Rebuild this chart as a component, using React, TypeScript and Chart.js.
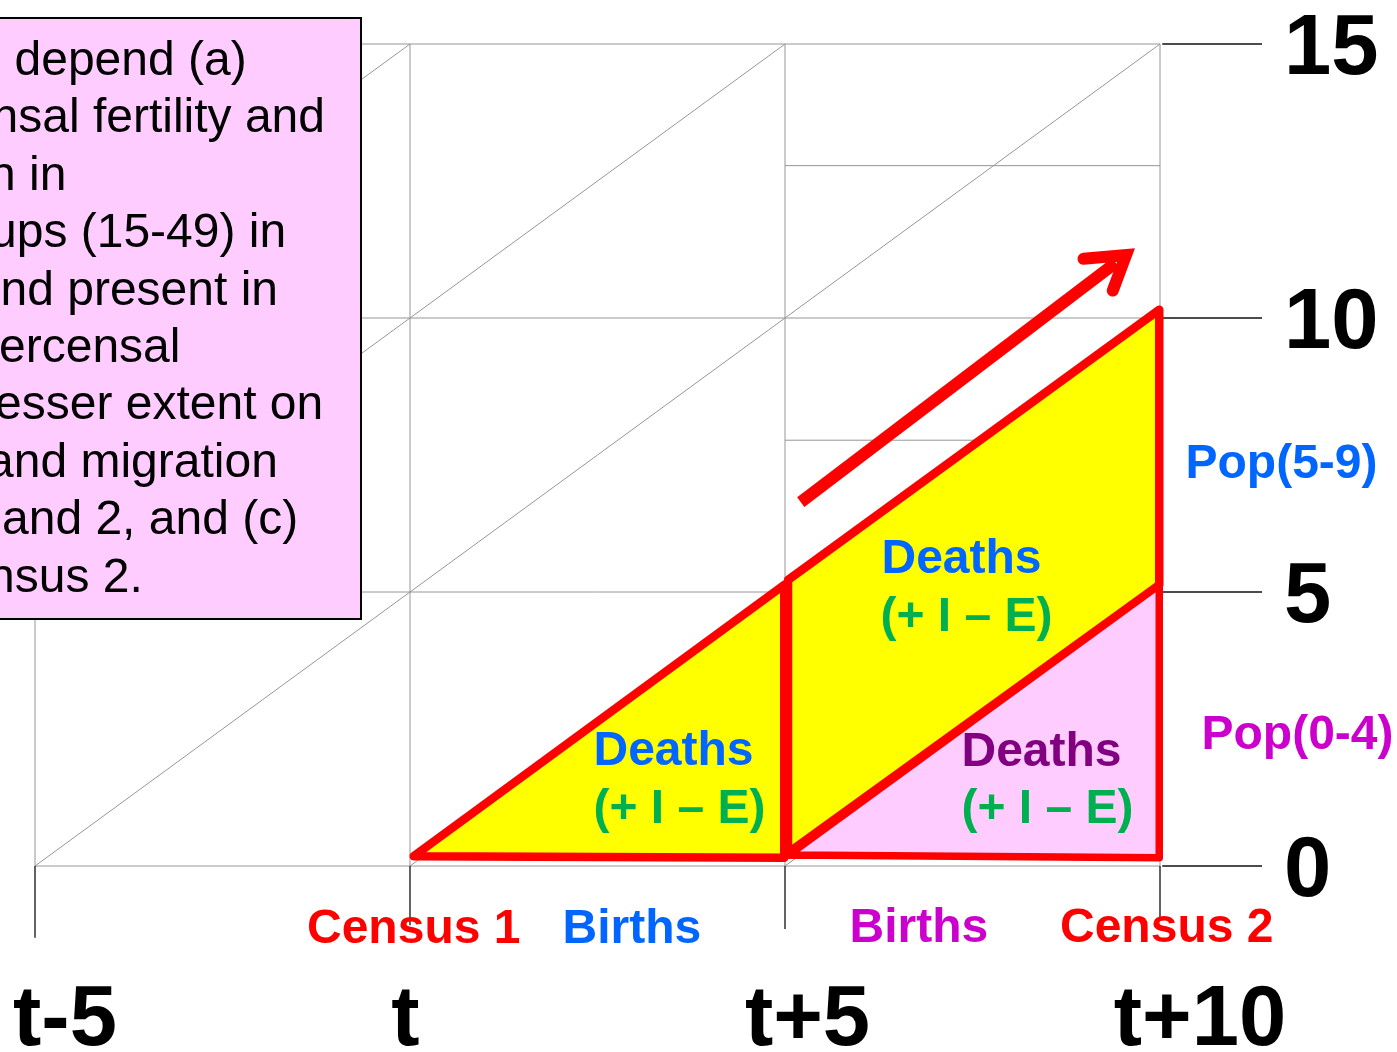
import { useEffect, useRef } from "react";
import { Chart, registerables } from "chart.js";
Chart.register(...registerables);

// ---- data (Lexis diagram: x = time in years, y = age) ----
const X_TICKS = [-5, 0, 5, 10];
const X_TICK_LABELS = ["t-5", "t", "t+5", "t+10"];
const Y_TICKS = [0, 5, 10, 15];
const Y_TICK_LABELS = ["0", "5", "10", "15"];
const SUB_LINES_Y = [7.77, 12.78];
const COHORT_START_X = [-5, -5, -5, 0, 5];
const COHORT_START_Y = [0, 5, 10, 0, 0];
const BOTTOM_TICK_END = [-1.31, -1.08, -1.15, -0.93];
const RIGHT_TICK_END = 11.36;

const TRI1_X = [0.05, 4.99, 4.99];
const TRI1_Y = [0.18, 5.13, 0.15];
const PARA_X = [5.04, 5.04, 9.99, 9.99];
const PARA_Y = [0.24, 5.22, 10.15, 5.13];
const PINK_X = [5.05, 9.99, 9.99];
const PINK_Y = [0.2, 5.13, 0.15];
const ARROW_SHAFT_X = [5.21, 9.41];
const ARROW_SHAFT_Y = [6.64, 11.01];
const ARROW_HEAD_X = [8.98, 9.547, 9.37];
const ARROW_HEAD_Y = [11.08, 11.15, 10.5];

const BOX_LINES = [
  "depend (a)",
  "nsal fertility and",
  "n in",
  "ups (15-49) in",
  "nd present in",
  "ercensal",
  "esser extent on",
  "and migration",
  "and 2, and (c)",
  "nsus 2.",
];

const FONT = "'Liberation Sans', Arial, Helvetica, sans-serif";
const GRAY = "#969696";
const RED = "#ff0000";

type P = { x: number; y: number };
const seg = (x1: number, y1: number, x2: number, y2: number): P[] => [
  { x: x1, y: y1 },
  { x: x2, y: y2 },
];
const pts = (xs: number[], ys: number[]): P[] => xs.map((x, i) => ({ x, y: ys[i] }));
const closed = (xs: number[], ys: number[]): P[] => {
  const p = pts(xs, ys);
  return [...p, p[0]];
};

const lineDs = (data: P[], color: string, width: number, extra: any = {}) => ({
  data,
  showLine: true,
  borderColor: color,
  borderWidth: width,
  pointRadius: 0,
  pointHoverRadius: 0,
  fill: false,
  tension: 0,
  ...extra,
});

function buildDatasets() {
  const list: any[] = [];
  // gray grid
  X_TICKS.forEach((x) => list.push(lineDs(seg(x, 0, x, 15), GRAY, 1)));
  Y_TICKS.forEach((y) => list.push(lineDs(seg(-5, y, 10, y), GRAY, 1)));
  SUB_LINES_Y.forEach((y) => list.push(lineDs(seg(5, y, 10, y), GRAY, 1)));
  COHORT_START_X.forEach((x0, i) => {
    const y0 = COHORT_START_Y[i];
    const d = Math.min(10 - x0, 15 - y0);
    list.push(lineDs(seg(x0, y0, x0 + d, y0 + d), GRAY, 1));
  });
  // black ticks
  Y_TICKS.forEach((y) => list.push(lineDs(seg(10.03, y, RIGHT_TICK_END, y), "#111", 1.3)));
  X_TICKS.forEach((x, i) => list.push(lineDs(seg(x, 0, x, BOTTOM_TICK_END[i]), "#111", 1.3)));
  // red regions
  const shape = { fill: "shape", borderJoinStyle: "round", borderCapStyle: "round" };
  list.push(lineDs(closed(TRI1_X, TRI1_Y), RED, 8.5, { ...shape, backgroundColor: "#ffff00" }));
  list.push(lineDs(closed(PARA_X, PARA_Y), RED, 8.5, { ...shape, backgroundColor: "#ffff00" }));
  list.push(lineDs(closed(PINK_X, PINK_Y), RED, 7.5, { ...shape, backgroundColor: "#ffccff" }));
  // arrow
  list.push(lineDs(pts(ARROW_SHAFT_X, ARROW_SHAFT_Y), RED, 12, { borderCapStyle: "butt" }));
  list.push(
    lineDs(pts(ARROW_HEAD_X, ARROW_HEAD_Y), RED, 12, { borderCapStyle: "round", borderJoinStyle: "miter" })
  );
  const n = list.length;
  list.forEach((d, i) => (d.order = n - i));
  return list;
}

function txt(ctx: CanvasRenderingContext2D, s: string, x: number, y: number, font: string, color: string, align: CanvasTextAlign = "left") {
  ctx.save();
  ctx.font = font;
  ctx.fillStyle = color;
  ctx.textAlign = align;
  ctx.textBaseline = "alphabetic";
  ctx.fillText(s, x, y);
  ctx.restore();
}

const annotations = {
  id: "lexisText",
  afterDatasetsDraw(chart: any) {
    const ctx: CanvasRenderingContext2D = chart.ctx;
    const xs = chart.scales.x;
    const ys = chart.scales.y;

    // pink text box
    ctx.save();
    ctx.fillStyle = "#ffccff";
    ctx.fillRect(-4, 18, 365, 601);
    ctx.strokeStyle = "#000";
    ctx.lineWidth = 2;
    ctx.strokeRect(-4, 18, 365, 601);
    ctx.restore();
    const boxX = [14.5, -8.5, -11, -10, 0.5, -1, -5, -13, 2, -12];
    BOX_LINES.forEach((s, i) => {
      txt(ctx, s, boxX[i], 75 + i * 57.4, `48px ${FONT}`, "#000");
    });

    // axis labels
    const big = `bold 85px ${FONT}`;
    Y_TICKS.forEach((v, i) => {
      txt(ctx, Y_TICK_LABELS[i], xs.getPixelForValue(10) + 124, ys.getPixelForValue(v) + 30, big, "#000");
    });
    const xdx = [30, -4.5, 22.5, 40];
    X_TICKS.forEach((v, i) => {
      txt(ctx, X_TICK_LABELS[i], xs.getPixelForValue(v) + xdx[i], 1045, big, "#000", "center");
    });

    const b = `bold 48px ${FONT}`;
    const blue = "#0066ff";
    const green = "#00b050";
    const magenta = "#cc00cc";
    txt(ctx, "Census 1", 307, 943, b, RED);
    txt(ctx, "Births", 562.5, 943, b, blue);
    txt(ctx, "Births", 849.5, 942, b, magenta);
    txt(ctx, "Census 2", 1060, 942, b, RED);
    txt(ctx, "Pop(5-9)", 1185.5, 478, b, blue);
    txt(ctx, "Pop(0-4)", 1201.5, 749, b, magenta);
    txt(ctx, "Deaths", 593.5, 765, b, blue);
    txt(ctx, "(+ I \u2013 E)", 593.5, 823, b, green);
    txt(ctx, "Deaths", 881.5, 573, b, blue);
    txt(ctx, "(+ I \u2013 E)", 880.5, 631, b, green);
    txt(ctx, "Deaths", 961.5, 766, b, "#800080");
    txt(ctx, "(+ I \u2013 E)", 961.5, 823, b, green);
  },
};

export default function App() {
  const ref = useRef<HTMLCanvasElement>(null);
  useEffect(() => {
    if (!ref.current) return;
    const chart = new Chart(ref.current, {
      type: "scatter",
      data: { datasets: buildDatasets() },
      options: {
        responsive: false,
        animation: false,
        events: [],
        devicePixelRatio: 1,
        layout: { padding: 0 },
        plugins: { legend: { display: false }, tooltip: { enabled: false } },
        scales: {
          x: { type: "linear", display: false, min: -5 - 35 / 75, max: -5 - 35 / 75 + 1397 / 75 },
          y: { type: "linear", display: false, min: -(1052 - 866) / 54.8, max: 15 + 44 / 54.8 },
        },
      } as any,
      plugins: [annotations],
    });
    return () => chart.destroy();
  }, []);
  return (
    <div style={{ position: "fixed", left: 0, top: 0, width: 1397, height: 1052, background: "#fff" }}>
      <canvas ref={ref} width={1397} height={1052} style={{ display: "block", width: 1397, height: 1052 }} />
    </div>
  );
}
